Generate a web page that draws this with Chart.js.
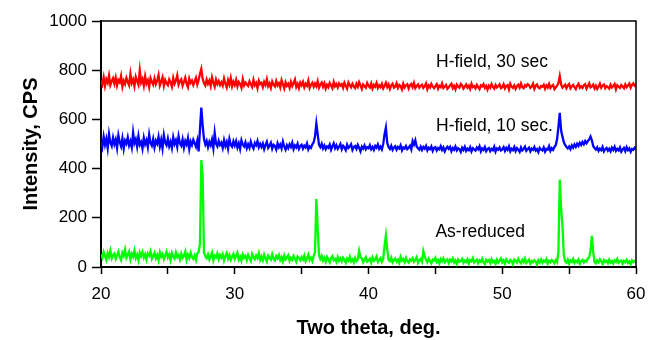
<!DOCTYPE html>
<html>
<head>
<meta charset="utf-8">
<title>XRD patterns</title>
<script src="https://cdn.jsdelivr.net/npm/chart.js@4/dist/chart.umd.min.js"></script>
<style>
  body { margin: 0; background: #fff; }
  canvas { display: block; }
</style>
</head>
<body>
<canvas id="xrdChart" width="659" height="340"></canvas>
<script>
'use strict';

// two theta, deg. (0.1 deg steps)
var twoTheta = [
  20,20.1,20.2,20.3,20.4,20.5,20.6,20.7,20.8,20.9,
  21,21.1,21.2,21.3,21.4,21.5,21.6,21.7,21.8,21.9,
  22,22.1,22.2,22.3,22.4,22.5,22.6,22.7,22.8,22.9,
  23,23.1,23.2,23.3,23.4,23.5,23.6,23.7,23.8,23.9,
  24,24.1,24.2,24.3,24.4,24.5,24.6,24.7,24.8,24.9,
  25,25.1,25.2,25.3,25.4,25.5,25.6,25.7,25.8,25.9,
  26,26.1,26.2,26.3,26.4,26.5,26.6,26.7,26.8,26.9,
  27,27.1,27.2,27.3,27.4,27.5,27.6,27.7,27.8,27.9,
  28,28.1,28.2,28.3,28.4,28.5,28.6,28.7,28.8,28.9,
  29,29.1,29.2,29.3,29.4,29.5,29.6,29.7,29.8,29.9,
  30,30.1,30.2,30.3,30.4,30.5,30.6,30.7,30.8,30.9,
  31,31.1,31.2,31.3,31.4,31.5,31.6,31.7,31.8,31.9,
  32,32.1,32.2,32.3,32.4,32.5,32.6,32.7,32.8,32.9,
  33,33.1,33.2,33.3,33.4,33.5,33.6,33.7,33.8,33.9,
  34,34.1,34.2,34.3,34.4,34.5,34.6,34.7,34.8,34.9,
  35,35.1,35.2,35.3,35.4,35.5,35.6,35.7,35.8,35.9,
  36,36.1,36.2,36.3,36.4,36.5,36.6,36.7,36.8,36.9,
  37,37.1,37.2,37.3,37.4,37.5,37.6,37.7,37.8,37.9,
  38,38.1,38.2,38.3,38.4,38.5,38.6,38.7,38.8,38.9,
  39,39.1,39.2,39.3,39.4,39.5,39.6,39.7,39.8,39.9,
  40,40.1,40.2,40.3,40.4,40.5,40.6,40.7,40.8,40.9,
  41,41.1,41.2,41.3,41.4,41.5,41.6,41.7,41.8,41.9,
  42,42.1,42.2,42.3,42.4,42.5,42.6,42.7,42.8,42.9,
  43,43.1,43.2,43.3,43.4,43.5,43.6,43.7,43.8,43.9,
  44,44.1,44.2,44.3,44.4,44.5,44.6,44.7,44.8,44.9,
  45,45.1,45.2,45.3,45.4,45.5,45.6,45.7,45.8,45.9,
  46,46.1,46.2,46.3,46.4,46.5,46.6,46.7,46.8,46.9,
  47,47.1,47.2,47.3,47.4,47.5,47.6,47.7,47.8,47.9,
  48,48.1,48.2,48.3,48.4,48.5,48.6,48.7,48.8,48.9,
  49,49.1,49.2,49.3,49.4,49.5,49.6,49.7,49.8,49.9,
  50,50.1,50.2,50.3,50.4,50.5,50.6,50.7,50.8,50.9,
  51,51.1,51.2,51.3,51.4,51.5,51.6,51.7,51.8,51.9,
  52,52.1,52.2,52.3,52.4,52.5,52.6,52.7,52.8,52.9,
  53,53.1,53.2,53.3,53.4,53.5,53.6,53.7,53.8,53.9,
  54,54.1,54.2,54.3,54.4,54.5,54.6,54.7,54.8,54.9,
  55,55.1,55.2,55.3,55.4,55.5,55.6,55.7,55.8,55.9,
  56,56.1,56.2,56.3,56.4,56.5,56.6,56.7,56.8,56.9,
  57,57.1,57.2,57.3,57.4,57.5,57.6,57.7,57.8,57.9,
  58,58.1,58.2,58.3,58.4,58.5,58.6,58.7,58.8,58.9,
  59,59.1,59.2,59.3,59.4,59.5,59.6,59.7,59.8,59.9,
  60
];

// H-field, 30 sec (red)
var field30Counts = [
  758,742,771,736,763,749,778,740,755,767,
  745,770,738,760,751,776,733,757,744,769,
  752,739,785,748,762,735,773,756,741,798,
  750,764,737,775,746,759,732,768,753,741,
  766,743,757,780,738,754,771,736,760,747,
  739,762,750,733,768,745,758,779,741,755,
  763,737,752,770,744,731,766,749,758,740,
  754,769,742,760,785,805,765,748,738,762,
  745,758,736,771,749,733,762,744,756,740,
  751,737,766,745,730,759,742,768,735,753,
  740,760,734,752,744,729,763,738,750,742,
  736,755,743,732,761,739,748,727,757,744,
  749,731,752,740,763,735,746,728,754,741,
  734,756,738,747,730,759,742,726,751,737,
  745,729,753,736,748,762,732,744,727,750,
  739,752,730,745,737,758,728,741,749,733,
  746,735,755,729,742,750,733,747,725,740,
  731,748,738,727,752,735,744,730,746,737,
  743,728,749,736,725,750,739,731,745,734,
  727,745,733,751,738,724,742,735,729,748,
  736,730,746,725,740,733,748,728,739,731,
  744,726,737,749,731,742,724,738,745,729,
  733,747,728,740,735,722,745,730,738,743,
  726,739,744,731,748,727,736,742,729,737,
  741,728,735,746,723,738,730,744,733,727,
  735,743,725,737,731,746,728,734,740,724,
  730,739,745,727,736,722,741,733,729,744,
  738,725,733,742,729,737,724,745,731,735,
  726,740,731,723,738,734,743,728,736,721,
  737,729,744,732,725,740,730,735,742,727,
  731,743,726,736,739,722,745,733,728,738,
  724,735,741,729,746,731,727,739,734,743,
  739,728,733,745,724,737,742,730,726,736,
  733,741,725,738,730,744,728,736,740,723,
  730,737,748,776,742,729,735,741,727,738,
  744,726,734,740,731,723,737,745,729,735,
  728,739,743,725,736,747,730,734,741,726,
  737,724,733,745,729,738,742,727,735,731,
  725,741,730,736,744,722,739,733,728,740,
  734,727,742,731,738,746,729,740,747,737,
  741
];

// H-field, 10 sec. (blue)
var field10Counts = [
  512,488,530,497,521,483,540,505,492,526,
  499,518,484,535,507,490,523,481,514,502,
  527,494,511,486,546,503,519,489,532,497,
  508,481,525,499,515,487,538,504,493,520,
  486,513,501,529,490,517,482,536,506,495,
  522,491,509,484,527,500,515,488,531,503,
  493,519,485,512,498,524,480,510,496,517,
  503,489,514,470,560,648,575,520,498,512,
  487,509,495,518,483,545,501,490,513,496,
  505,484,516,492,508,481,520,497,489,511,
  494,512,486,503,480,515,498,490,507,483,
  499,485,510,492,481,504,495,512,487,500,
  488,502,479,496,509,484,493,505,481,497,
  492,478,503,487,498,482,510,490,477,495,
  483,499,488,505,479,494,486,501,480,492,
  497,481,493,486,502,478,490,484,499,507,
  530,583,540,496,487,501,482,494,479,490,
  485,498,477,491,503,483,495,480,489,500,
  479,493,486,475,497,484,490,499,476,488,
  492,480,496,484,470,489,481,494,478,487,
  483,495,479,488,476,492,485,498,480,489,
  478,500,540,567,505,487,480,493,476,486,
  491,477,488,482,495,474,486,481,492,479,
  485,493,478,512,498,515,490,483,477,489,
  476,488,481,492,474,485,479,490,472,484,
  487,473,483,478,491,476,486,470,482,489,
  480,488,471,484,477,490,474,483,479,468,
  485,476,489,472,481,475,487,470,483,478,
  473,486,479,491,470,482,476,488,471,480,
  484,471,480,475,489,469,482,477,486,474,
  478,487,472,484,476,490,470,481,475,488,
  471,483,477,468,486,474,480,489,472,479,
  485,470,481,476,488,473,479,467,484,477,
  474,486,469,480,477,491,472,483,476,488,
  495,520,570,627,555,530,508,496,488,482,
  490,479,494,485,498,488,501,492,505,496,
  508,499,512,503,512,518,530,515,492,483,
  477,486,472,481,475,488,470,479,484,473,
  481,470,485,476,489,472,480,474,486,469,
  478,484,471,487,475,482,468,480,476,485,
  479
];

// As-reduced (green)
var asReducedCounts = [
  52,38,61,44,29,57,41,66,35,48,
  55,33,47,62,40,28,58,45,71,37,
  49,63,31,54,42,67,36,50,27,59,
  44,61,38,52,30,56,47,64,33,45,
  58,35,49,27,60,42,53,31,46,62,
  39,51,28,57,43,34,59,40,48,30,
  54,37,45,63,29,50,36,58,41,33,
  47,28,55,62,95,435,370,60,44,36,
  51,30,43,58,27,46,39,55,32,49,
  38,52,26,44,57,34,48,29,41,53,
  33,46,58,30,42,25,51,37,45,28,
  49,35,24,53,40,31,47,36,56,29,
  43,27,50,34,22,46,38,30,52,33,
  26,44,35,49,28,40,23,47,31,39,
  48,25,37,29,45,33,21,42,36,27,
  40,30,46,23,34,50,28,38,24,45,
  60,276,160,48,33,45,26,38,22,41,
  30,19,36,44,27,33,20,40,25,35,
  22,38,29,17,34,26,42,23,31,18,
  37,24,30,66,40,35,19,30,40,22,
  27,34,18,39,25,31,43,20,29,36,
  21,33,85,128,72,30,24,38,19,28,
  35,22,30,17,41,26,33,20,37,24,
  18,31,25,36,21,29,40,17,27,33,
  22,65,44,28,19,34,24,15,30,26,
  37,20,28,14,32,23,35,19,26,31,
  16,29,22,34,18,27,13,30,21,25,
  33,17,26,20,31,14,28,23,36,18,
  24,30,15,27,21,34,19,12,29,22,
  28,16,32,20,25,13,30,18,26,35,
  19,27,14,31,22,17,28,24,11,30,
  25,18,33,21,15,29,20,34,16,23,
  30,13,24,19,28,22,10,27,18,31,
  17,26,21,32,14,25,19,29,23,15,
  28,20,62,355,240,170,50,24,18,30,
  14,27,21,33,16,25,19,30,13,24,
  29,18,26,22,35,40,68,127,60,20,
  15,27,19,31,23,12,28,20,25,16,
  30,18,24,14,27,21,33,17,22,26,
  13,25,19,29,16,23,11,27,20,24,
  18
];

var seriesNames = ['H-field, 30 sec', 'H-field, 10 sec.', 'As-reduced'];
var seriesColors = ['#ff0000', '#0000ff', '#00ff00'];

// text notes next to the curves, anchored in data units
var noteTexts = ['H-field, 30 sec', 'H-field, 10 sec.', 'As-reduced'];
var noteAngles = [45.05, 45.05, 45.0];
var noteCounts = [815, 553, 121];

var xTicks = { min: 20, max: 60, step: 5 };
var yTicks = { min: 0, max: 1000, step: 200 };

var fontFamily = '"Liberation Sans", Arial, Helvetica, sans-serif';

var toPoints = function(values) {
  var pts = [];
  for (var i = 0; i < values.length; i++) {
    pts.push({ x: twoTheta[i], y: values[i] });
  }
  return pts;
};

var frameAndNotes = {
  id: 'frameAndNotes',
  afterDatasetsDraw: function(chart) {
    var c = chart.ctx;
    var area = chart.chartArea;
    c.save();
    c.strokeStyle = '#000';
    c.lineWidth = 1.5;
    c.beginPath();
    c.moveTo(area.left, area.top);
    c.lineTo(area.right, area.top);
    c.lineTo(area.right, area.bottom);
    c.stroke();

    c.fillStyle = '#000';
    c.font = '17.5px ' + fontFamily;
    c.textBaseline = 'alphabetic';
    c.textAlign = 'left';
    for (var i = 0; i < noteTexts.length; i++) {
      c.fillText(noteTexts[i],
        chart.scales.x.getPixelForValue(noteAngles[i]),
        chart.scales.y.getPixelForValue(noteCounts[i]));
    }
    c.restore();
  }
};

var allCounts = [field30Counts, field10Counts, asReducedCounts];
var datasets = [];
for (var s = 0; s < allCounts.length; s++) {
  datasets.push({
    label: seriesNames[s],
    data: toPoints(allCounts[s]),
    borderColor: seriesColors[s],
    backgroundColor: seriesColors[s],
    borderWidth: 2.3,
    pointRadius: 0,
    tension: 0,
    fill: false
  });
}

var ctx = document.getElementById('xrdChart').getContext('2d');

var xrdChart = new Chart(ctx, {
  type: 'line',
  data: { datasets: datasets },
  plugins: [frameAndNotes],
  options: {
    responsive: false,
    animation: false,
    parsing: false,
    layout: { padding: { left: 19, top: 21, right: 23, bottom: 0 } },
    plugins: {
      legend: { display: false },
      tooltip: { enabled: false }
    },
    scales: {
      x: {
        type: 'linear',
        min: xTicks.min,
        max: xTicks.max,
        afterFit: function(scale) { scale.height = 73; },
        ticks: {
          stepSize: xTicks.step,
          autoSkip: false,
          maxRotation: 0,
          padding: 10,
          color: '#000',
          font: { family: fontFamily, size: 17 },
          callback: function(v) { return v % 10 === 0 ? String(v) : ''; }
        },
        grid: {
          drawOnChartArea: false,
          drawTicks: true,
          tickLength: 7,
          tickWidth: 1.5,
          tickColor: '#000'
        },
        border: { display: true, color: '#000', width: 2 },
        title: {
          display: true,
          text: 'Two theta, deg.',
          color: '#000',
          padding: 0,
          font: { family: fontFamily, size: 20, weight: 'bold' }
        }
      },
      y: {
        type: 'linear',
        min: yTicks.min,
        max: yTicks.max,
        afterFit: function(scale) { scale.width = 82; },
        ticks: {
          stepSize: yTicks.step,
          padding: 5,
          color: '#000',
          font: { family: fontFamily, size: 17 },
          callback: function(v) { return String(v); }
        },
        grid: {
          drawOnChartArea: false,
          drawTicks: true,
          tickLength: 9,
          tickWidth: 1.5,
          tickColor: '#000'
        },
        border: { display: true, color: '#000', width: 2 },
        title: {
          display: true,
          text: 'Intensity, CPS',
          color: '#000',
          padding: 0,
          font: { family: fontFamily, size: 20, weight: 'bold' }
        }
      }
    }
  }
});
</script>
</body>
</html>
